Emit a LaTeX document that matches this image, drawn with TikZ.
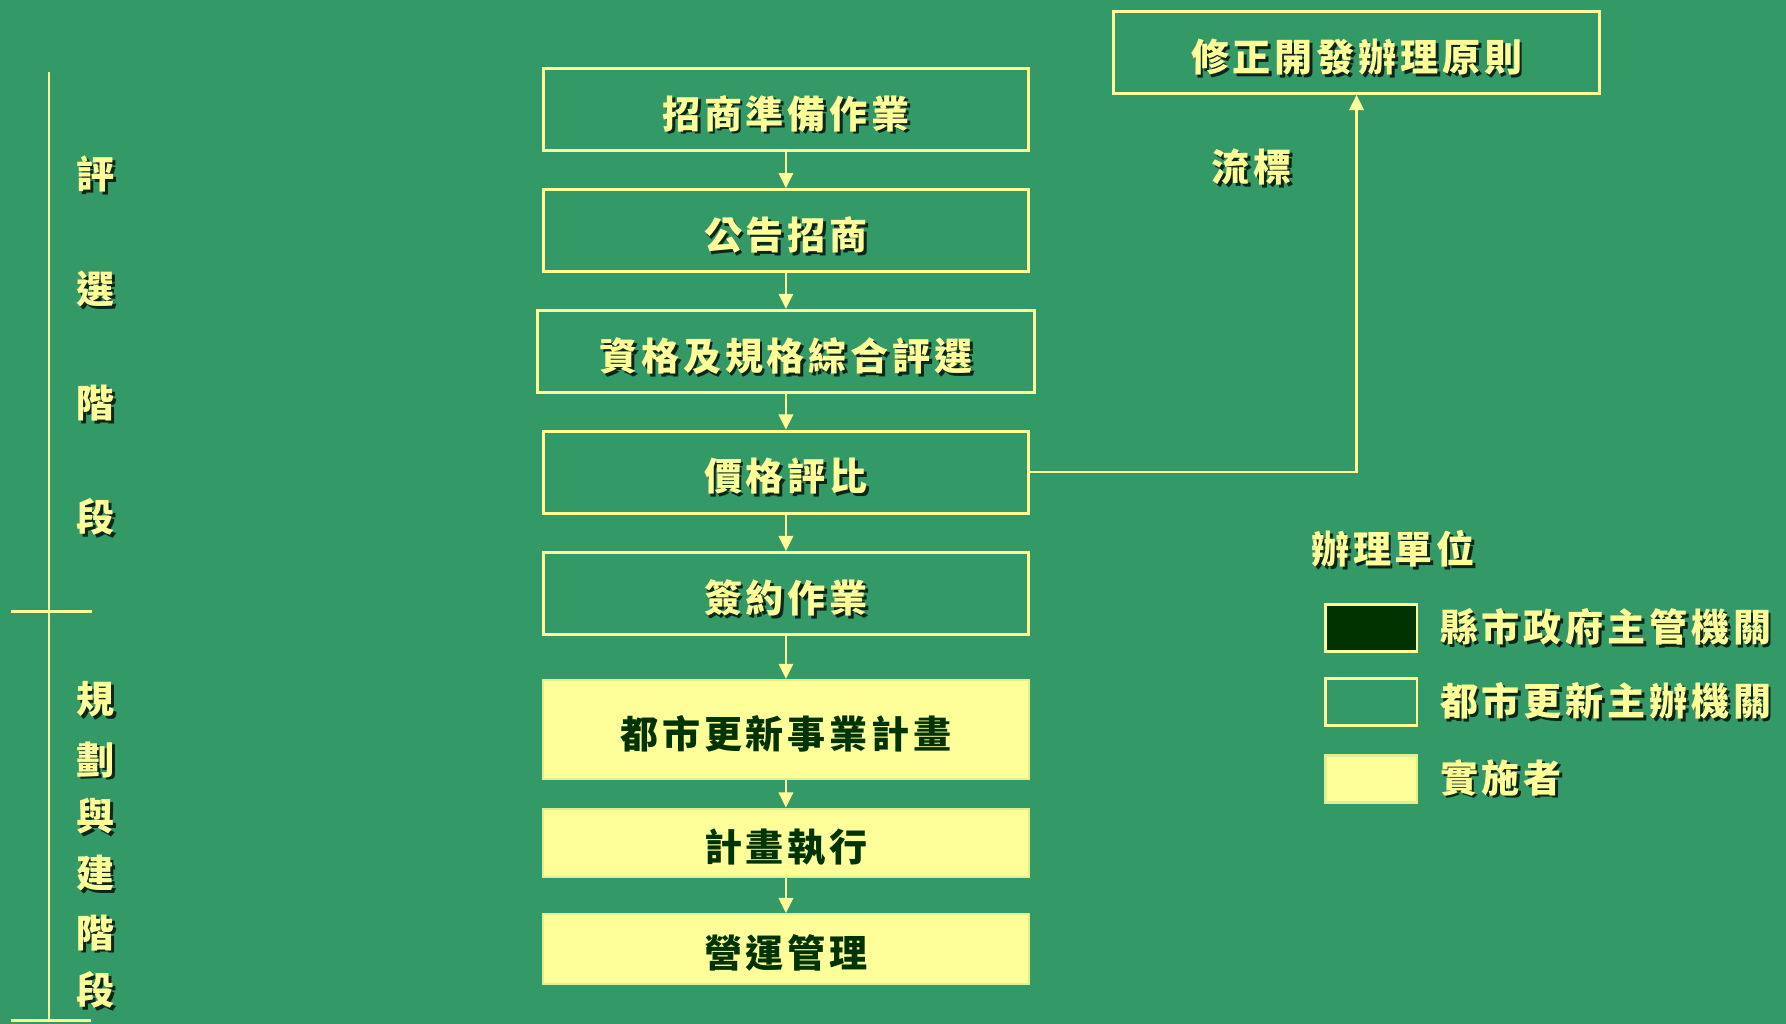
\documentclass[tikz,border=0pt]{standalone}
\usepackage{fontspec}
\setmainfont{Noto Sans CJK TC}[LetterSpace=10]
\usetikzlibrary{arrows.meta,positioning}
\definecolor{bg}{RGB}{51,153,102}
\definecolor{pale}{RGB}{255,255,153}
\definecolor{dgreen}{RGB}{0,51,0}
% yellow text with a dark drop shadow
\newcommand{\sh}[1]{\makebox[0pt][l]{\hspace{0.7pt}\raisebox{-0.7pt}{\color{black!75!bg}#1}}#1}
\tikzset{
    every node/.style={font=\fontsize{9.5}{11}\selectfont\bfseries, text=pale, inner sep=0pt},
    stepbox/.style={draw=pale, line width=0.7pt, minimum width=4.25cm, minimum height=0.72cm, text height=1.06em, text depth=0.12em},
    doerbox/.style={fill=pale, draw=pale!85!bg, line width=0.5pt, text=dgreen, minimum width=4.26cm, text height=1.06em, text depth=0.12em},
    keybox/.style={draw=pale, line width=0.7pt, minimum width=0.8cm, minimum height=0.41cm},
}
\begin{document}
\begin{tikzpicture}[x=0.01cm, y=-0.01cm, >={Triangle[width=3.6pt,length=3.8pt]}, pale, line width=0.6pt]
            \fill[bg] (0, 0) rectangle (1568, 899);
            \useasboundingbox (0, 0) rectangle (1568, 899);

            % phases on the left
            \draw (43, 63) to (43, 896);
            \draw (10, 537) to (81, 537);
            \draw (10, 896) to (80, 896);
            \node (p1) at (84, 154) {\sh{評}};
            \node (p2) at (84, 255) {\sh{選}};
            \node (p3) at (84, 355) {\sh{階}};
            \node (p4) at (84, 455) {\sh{段}};
            \node (q1) at (84, 615) {\sh{規}};
            \node (q2) at (84, 668) {\sh{劃}};
            \node (q3) at (84, 718) {\sh{與}};
            \node (q4) at (84, 768) {\sh{建}};
            \node (q5) at (84, 820) {\sh{階}};
            \node (q6) at (84, 870) {\sh{段}};

            % main flow
            \node[stepbox] (prep) at (690, 96) {\sh{招商準備作業}};
            \node[stepbox] (call) at (690, 202.5) {\sh{公告招商}};
            \node[stepbox, minimum width=4.36cm] (eval) at (690, 308.5) {\sh{資格及規格綜合評選}};
            \node[stepbox] (price) at (690, 414.5) {\sh{價格評比}};
            \node[stepbox] (sign) at (690, 521) {\sh{簽約作業}};
            \node[doerbox, minimum height=0.87cm] (plan) at (690, 640.5) {都市更新事業計畫};
            \node[doerbox, minimum height=0.60cm] (exec) at (690, 740) {計畫執行};
            \node[doerbox, minimum height=0.61cm] (run) at (690, 833) {營運管理};
            \draw[->] (prep) to (call);
            \draw[->] (call) to (eval);
            \draw[->] (eval) to (price);
            \draw[->] (price) to (sign);
            \draw[->] (sign) to (plan);
            \draw[->] (plan) to (exec);
            \draw[->] (exec) to (run);

            % failed tender
            \node[stepbox, minimum width=4.26cm] (rule) at (1191, 46) {\sh{修正開發辦理原則}};
            \draw[->] (price.east) -| (rule.south);
            \node (fail) at (1099, 148) {\sh{流標}};

            % legend
            \node (unit) at (1223, 483) {\sh{辦理單位}};
            \node[keybox, fill=dgreen] (k1) at (1204, 551.5) {};
            \node[keybox] (k2) at (1204, 616.5) {};
            \node[keybox, fill=pale, draw=pale!85!bg] (k3) at (1204, 684) {};
            \node[right=0.18cm of k1] (l1) {\sh{縣市政府主管機關}};
            \node[right=0.18cm of k2] (l2) {\sh{都市更新主辦機關}};
            \node[right=0.18cm of k3] (l3) {\sh{實施者}};
\end{tikzpicture}
\end{document}
